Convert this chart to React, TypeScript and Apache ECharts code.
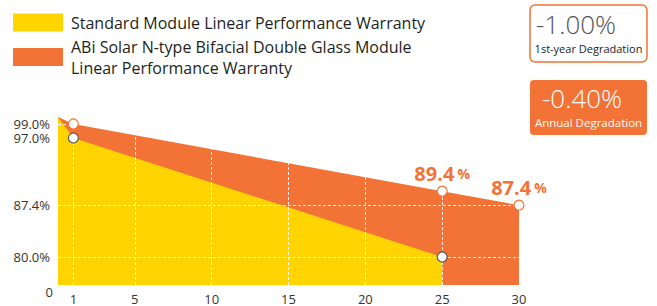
import React, { useEffect, useRef } from "react";
import * as echarts from "echarts";

// ---- data ----
const standardYears = [0, 1, 25];
const standardValues = [100, 97, 80];
const abiYears = [0, 1, 25, 30];
const abiValues = [100, 99, 89.4, 87.4];
const labeledAbiYears = [25, 30];
const seriesNames = [
  "Standard Module Linear Performance Warranty",
  "ABi Solar N-type Bifacial Double Glass Module\nLinear Performance Warranty",
];
const xTickValues = [1, 5, 10, 15, 20, 25, 30];
const yTickValues = [76, 80, 87.4, 97, 99];
const yTickLabels = ["0", "80.0%", "87.4%", "97.0%", "99.0%"];
const gridLineYears = [1, 5, 10, 15, 20, 25];
const gridLineValues = [99, 87.4, 80];
const boxValues = ["-1.00%", "-0.40%"];
const boxCaptions = ["1st-year Degradation", "Annual Degradation"];

const YELLOW = "#FFD400";
const ORANGE = "#F37236";
const FONT = "'Open Sans', 'Noto Sans', sans-serif";

export default function App() {
  const ref = useRef<HTMLDivElement>(null);
  useEffect(() => {
    document.body.style.margin = "0";
    if (!ref.current) return;
    const chart = echarts.init(ref.current, undefined, { renderer: "svg" });
    const stdPts = standardYears.map((y, i) => [y, standardValues[i]]);
    const abiPts = abiYears.map((y, i) => [y, abiValues[i]]);
    const option: any = {
      animation: false,
      textStyle: { fontFamily: FONT },
      grid: { left: 58, right: 138, top: 117, bottom: 21, containLabel: false },
      legend: {
        data: [seriesNames[0], seriesNames[1]],
        orient: "vertical",
        left: 13,
        top: 12,
        padding: 0,
        itemWidth: 50,
        itemHeight: 18,
        itemGap: 3,
        icon: "rect",
        selectedMode: false,
        textStyle: {
          fontFamily: FONT,
          fontSize: 16,
          lineHeight: 21,
          color: "#231f20",
          padding: [0, 0, 0, 3],
        },
      },
      xAxis: {
        type: "value",
        min: 0,
        max: 30,
        axisLine: { show: false },
        axisTick: { show: false },
        splitLine: { show: false },
        axisLabel: {
          customValues: xTickValues,
          color: "#333",
          fontSize: 13,
          margin: 8,
          lineHeight: 12,
          fontFamily: FONT,
        },
      },
      yAxis: {
        type: "value",
        min: yTickValues[0],
        max: 100,
        axisLine: { show: false },
        axisTick: { show: false },
        splitLine: { show: false },
        axisLabel: {
          customValues: yTickValues,
          color: "#333",
          fontSize: 13,
          lineHeight: 12,
          margin: 8,
          fontFamily: FONT,
          formatter: (v: number) => {
            const i = yTickValues.findIndex((t) => Math.abs(t - v) < 1e-6);
            if (i === 0) return "{z|" + yTickLabels[0] + "}";
            return i >= 0 ? yTickLabels[i] : "";
          },
          rich: {
            z: { fontSize: 13, lineHeight: 12, color: "#333", fontFamily: FONT, padding: [14, -3, 0, 0] },
          },
        },
      },
      series: [
        {
          name: seriesNames[1],
          type: "line",
          data: abiPts,
          symbol: "none",
          color: ORANGE,
          itemStyle: { color: ORANGE },
          lineStyle: { width: 0, color: ORANGE },
          areaStyle: { color: ORANGE, opacity: 1, origin: "start" },
          z: 2,
        },
        {
          name: seriesNames[0],
          type: "line",
          data: stdPts,
          symbol: "none",
          color: YELLOW,
          itemStyle: { color: YELLOW },
          lineStyle: { width: 0, color: YELLOW },
          areaStyle: { color: YELLOW, opacity: 1, origin: "start" },
          z: 3,
          markLine: {
            silent: true,
            symbol: "none",
            z: 5,
            label: { show: false },
            lineStyle: { color: "#ffffff", type: [3, 2], width: 1, opacity: 0.9 },
            data: [
              ...gridLineValues.map((v) => ({ yAxis: v })),
              ...gridLineYears.map((y) => ({ xAxis: y })),
            ],
          },
        },
        {
          type: "scatter",
          data: stdPts.slice(1),
          symbol: "circle",
          symbolSize: 10,
          itemStyle: { color: "#fff", borderColor: "#555", borderWidth: 1.2, opacity: 1 },
          z: 10,
          silent: true,
        },
        {
          type: "scatter",
          data: abiPts.slice(1).map((p) => ({
            value: p,
            label: {
              show: labeledAbiYears.includes(p[0]),
              position: "top",
              distance: 2,
              formatter: (prm: any) => "{v|" + prm.value[1].toFixed(1) + "} {p|%}",
              rich: {
                v: { fontSize: 20, fontWeight: "bold", color: ORANGE, fontFamily: FONT },
                p: { fontSize: 14, fontWeight: "bold", color: ORANGE, fontFamily: FONT },
              },
            },
          })),
          symbol: "circle",
          symbolSize: 10,
          itemStyle: { color: "#fff", borderColor: ORANGE, borderWidth: 1.2, opacity: 1 },
          z: 10,
          silent: true,
        },
      ],
      graphic: [
        {
          type: "rect",
          shape: { x: 530, y: 5, width: 117, height: 57, r: 5 },
          style: { fill: "#fff", stroke: ORANGE, lineWidth: 1.5 },
        },
        {
          type: "text",
          x: 536,
          y: 24,
          style: {
            text: boxValues[0],
            fill: "#555",
            fontSize: 26,
            fontWeight: 300,
            fontFamily: FONT,
            verticalAlign: "middle",
          },
        },
        {
          type: "text",
          x: 588.5,
          y: 48,
          style: {
            text: boxCaptions[0],
            fill: "#222",
            fontSize: 11,
            fontFamily: FONT,
            align: "center",
            verticalAlign: "middle",
          },
        },
        {
          type: "rect",
          shape: { x: 530, y: 80, width: 117, height: 55, r: 4 },
          style: { fill: ORANGE },
        },
        {
          type: "text",
          x: 542,
          y: 98,
          style: {
            text: boxValues[1],
            fill: "#fff",
            fontSize: 26,
            fontWeight: 300,
            fontFamily: FONT,
            verticalAlign: "middle",
          },
        },
        {
          type: "text",
          x: 588.5,
          y: 122,
          style: {
            text: boxCaptions[1],
            fill: "#fff",
            fontSize: 11.5,
            fontFamily: FONT,
            align: "center",
            verticalAlign: "middle",
          },
        },
      ],
    };
    chart.setOption(option);
    return () => chart.dispose();
  }, []);
  return <div ref={ref} style={{ width: 657, height: 306 }} />;
}
